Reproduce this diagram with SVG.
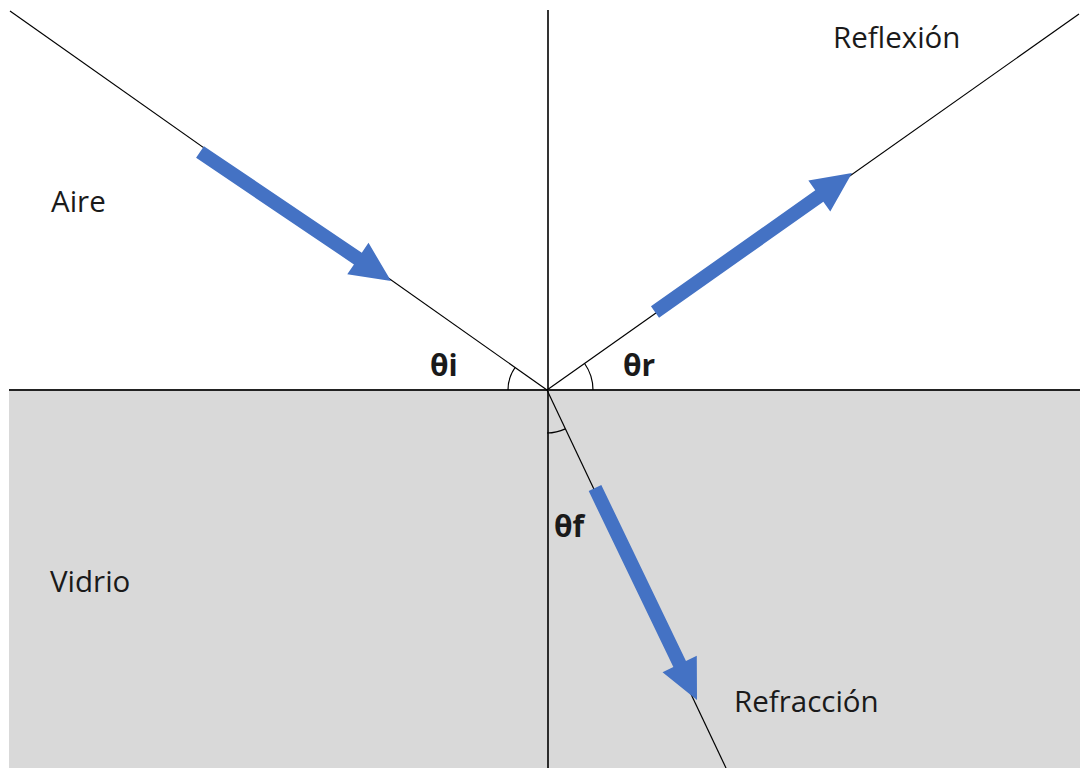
<svg xmlns="http://www.w3.org/2000/svg" width="1080" height="768" viewBox="0 0 1080 768">
  <style>
    .lbl { font-family: "Open Sans", "Liberation Sans", sans-serif; font-size: 29.5px; fill: #1a1a1a; }
    .ang { font-family: "Open Sans", "Liberation Sans", sans-serif; font-size: 30px; font-weight: bold; fill: #1a1a1a; }
    .ray { stroke: #000; stroke-width: 1.2; fill: none; }
    .arc { stroke: #000; stroke-width: 1.2; fill: none; }
    .arrow { fill: #4472c4; }
  </style>
  <rect width="1080" height="768" fill="#ffffff"/>
  <g id="glass">
    <rect x="9" y="390" width="1071" height="378" fill="#d9d9d9"/>
  </g>
  <g id="connectors">
    <line class="ray" x1="548" y1="10" x2="548" y2="768" style="stroke-width:1.6"/>
    <line class="ray" x1="9" y1="390" x2="1080" y2="390" style="stroke-width:2.2;stroke:#222"/>
    <line class="ray" x1="10" y1="11" x2="547" y2="390"/>
    <line class="ray" x1="547" y1="390" x2="1079" y2="14"/>
    <line class="ray" x1="547" y1="390" x2="726" y2="768"/>
    <path class="arc" d="M 508 390 A 39 39 0 0 1 515.1 367.5"/>
    <path class="arc" d="M 584.6 363.5 A 46 46 0 0 1 593 390"/>
    <path class="arc" d="M 547 433 A 43 43 0 0 0 565.3 428.9"/>
  </g>
  <g id="arrow-incident" transform="translate(200 152) rotate(34.03)">
    <polygon class="arrow" points="0,-7 190.5,-7 190.5,-19 230.5,0 190.5,19 190.5,7 0,7"/>
  </g>
  <g id="arrow-reflected" transform="translate(655 312) rotate(-35.21)">
    <polygon class="arrow" points="0,-7 201.1,-7 201.1,-19 241.1,0 201.1,19 201.1,7 0,7"/>
  </g>
  <g id="arrow-refracted" transform="translate(595 488) rotate(64.31)">
    <polygon class="arrow" points="0,-7 195.3,-7 195.3,-19 235.3,0 195.3,19 195.3,7 0,7"/>
  </g>
  <g id="label-aire"><text class="lbl" x="51" y="212">Aire</text></g>
  <g id="label-vidrio"><text class="lbl" x="50" y="592">Vidrio</text></g>
  <g id="label-reflexion"><text class="lbl" x="833" y="48">Reflexión</text></g>
  <g id="label-refraccion"><text class="lbl" x="734" y="712">Refracción</text></g>
  <g id="label-theta-i"><text class="ang" x="430" y="376">θi</text></g>
  <g id="label-theta-r"><text class="ang" x="623" y="376">θr</text></g>
  <g id="label-theta-f"><text class="ang" x="554" y="537">θf</text></g>
</svg>
